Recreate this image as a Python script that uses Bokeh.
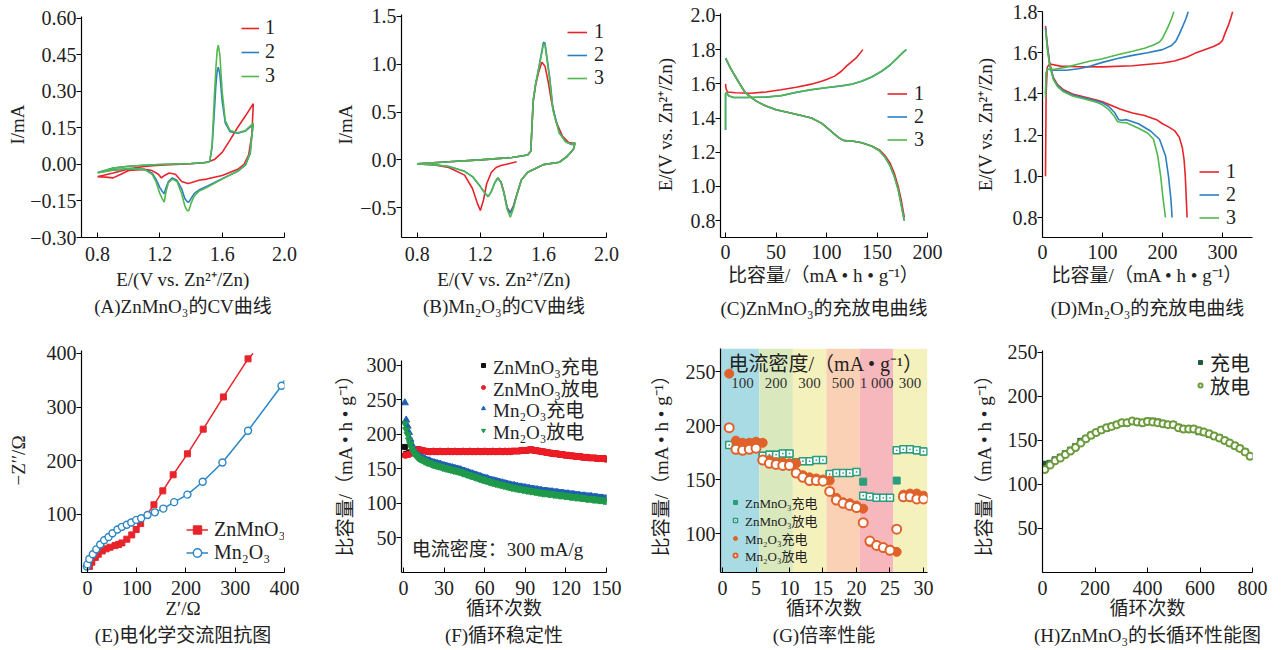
from bokeh.plotting import figure
from bokeh.models import (Range1d, FixedTicker, CustomJSTickFormatter, Legend, LegendItem,
                          Title, Label, BoxAnnotation)
from bokeh.layouts import row, column
from bokeh.embed import file_html
from bokeh.resources import INLINE

FONT = "Liberation Serif, Noto Sans CJK SC"
FS = "19px"

# ---------------- (A) ZnMnO3 CV ----------------
a_E1 = [0.80, 0.90, 1.00, 1.10, 1.20, 1.30, 1.40, 1.50, 1.55, 1.60, 1.65, 1.70, 1.75, 1.80, 1.79, 1.77, 1.74, 1.70,
        1.60, 1.50, 1.45, 1.40, 1.38, 1.34, 1.30, 1.26, 1.23, 1.21, 1.19, 1.15, 1.10, 1.00, 0.95, 0.90, 0.85, 0.80]
a_I1 = [-0.05, -0.035, -0.018, -0.008, -0.003, 0.0, 0.003, 0.008, 0.02, 0.05, 0.10, 0.153, 0.20, 0.25, 0.12, 0.04,
        0.0, -0.02, -0.045, -0.06, -0.065, -0.075, -0.078, -0.07, -0.04, -0.035, -0.045, -0.055, -0.04, -0.025,
        -0.02, -0.025, -0.04, -0.055, -0.052, -0.05]
a_E23 = [0.80, 0.90, 1.00, 1.10, 1.20, 1.30, 1.40, 1.48, 1.52, 1.535, 1.55, 1.56, 1.568, 1.575, 1.585, 1.60, 1.62,
         1.65, 1.70, 1.75, 1.80, 1.79, 1.78, 1.75, 1.70, 1.60, 1.50, 1.45, 1.42, 1.40, 1.385, 1.375, 1.36, 1.34,
         1.31, 1.28, 1.255, 1.24, 1.228, 1.215, 1.20, 1.175, 1.15, 1.10, 1.00, 0.90, 0.80]
a_I2 = [-0.033, -0.015, -0.007, -0.003, 0.0, 0.002, 0.004, 0.007, 0.012, 0.07, 0.22, 0.33, 0.385, 0.40, 0.37, 0.26,
        0.17, 0.135, 0.128, 0.138, 0.165, 0.115, 0.045, -0.002, -0.028, -0.058, -0.09, -0.105, -0.12, -0.14,
        -0.155, -0.152, -0.14, -0.10, -0.065, -0.055, -0.07, -0.095, -0.12, -0.11, -0.095, -0.06, -0.035, -0.02,
        -0.017, -0.023, -0.033]
a_I3 = [-0.035, -0.015, -0.007, -0.003, 0.0, 0.002, 0.004, 0.007, 0.012, 0.08, 0.28, 0.40, 0.47, 0.49, 0.45, 0.30,
        0.18, 0.14, 0.13, 0.14, 0.17, 0.12, 0.05, 0.0, -0.027, -0.06, -0.095, -0.11, -0.13, -0.16, -0.19, -0.19,
        -0.17, -0.12, -0.07, -0.06, -0.075, -0.11, -0.155, -0.14, -0.12, -0.07, -0.04, -0.02, -0.017, -0.024, -0.035]

# ---------------- (B) Mn2O3 CV ----------------
b_E1 = [1.43, 1.38, 1.33, 1.30, 1.27, 1.24, 1.22, 1.20, 1.18, 1.15, 1.10, 1.00, 0.90, 0.80, 1.00, 1.20, 1.40, 1.50,
        1.52, 1.535, 1.55, 1.57, 1.59, 1.61, 1.63, 1.65, 1.68, 1.72, 1.76, 1.80, 1.79, 1.75, 1.70, 1.60, 1.55, 1.50,
        1.46, 1.43, 1.41, 1.39, 1.37, 1.35, 1.33, 1.31]
b_I1 = [-0.02, -0.04, -0.06, -0.08, -0.13, -0.25, -0.42, -0.53, -0.45, -0.30, -0.16, -0.08, -0.05, -0.042, -0.02,
        0.0, 0.025, 0.05, 0.09, 0.60, 0.78, 0.92, 1.02, 0.98, 0.82, 0.62, 0.40, 0.25, 0.18, 0.17, 0.11, 0.035,
        -0.025, -0.05, -0.09, -0.13, -0.21, -0.37, -0.48, -0.55, -0.50, -0.34, -0.23, -0.19]
b_E23 = [0.80, 1.00, 1.20, 1.40, 1.50, 1.52, 1.535, 1.55, 1.57, 1.59, 1.60, 1.61, 1.62, 1.64, 1.66, 1.70, 1.74, 1.78,
         1.80, 1.79, 1.75, 1.70, 1.60, 1.55, 1.50, 1.46, 1.43, 1.41, 1.39, 1.37, 1.35, 1.33, 1.31, 1.29, 1.27,
         1.25, 1.23, 1.20, 1.15, 1.10, 1.00, 0.90, 0.80]
b_I2 = [-0.042, -0.02, 0.0, 0.025, 0.05, 0.09, 0.62, 0.79, 0.96, 1.14, 1.23, 1.22, 1.10, 0.86, 0.54, 0.29, 0.19,
        0.16, 0.18, 0.11, 0.035, -0.025, -0.05, -0.09, -0.13, -0.21, -0.37, -0.49, -0.56, -0.50, -0.35, -0.23,
        -0.19, -0.245, -0.33, -0.385, -0.35, -0.28, -0.175, -0.12, -0.07, -0.05, -0.042]
b_I3 = [-0.042, -0.02, 0.0, 0.025, 0.05, 0.09, 0.62, 0.79, 0.95, 1.12, 1.21, 1.20, 1.08, 0.84, 0.52, 0.28, 0.19,
        0.16, 0.18, 0.11, 0.035, -0.025, -0.05, -0.09, -0.13, -0.21, -0.38, -0.51, -0.60, -0.52, -0.35, -0.23,
        -0.19, -0.245, -0.33, -0.385, -0.35, -0.28, -0.175, -0.12, -0.07, -0.05, -0.042]

# ---------------- (C) ZnMnO3 charge/discharge ----------------
c_cap_ch1 = [0, 0.5, 2, 10, 25, 40, 55, 70, 85, 95, 100, 108, 115, 120, 125, 130, 136]
c_E_ch1 = [1.60, 1.57, 1.552, 1.548, 1.545, 1.552, 1.565, 1.58, 1.598, 1.615, 1.625, 1.645, 1.675, 1.705, 1.73,
           1.755, 1.80]
c_cap_ch23 = [0, 0, 1, 3, 8, 20, 40, 55, 70, 85, 100, 115, 125, 135, 145, 155, 163, 170, 176, 179]
c_E_ch2 = [1.33, 1.54, 1.55, 1.53, 1.52, 1.52, 1.522, 1.53, 1.55, 1.565, 1.577, 1.588, 1.597, 1.615, 1.64, 1.675,
           1.71, 1.75, 1.785, 1.80]
c_E_ch3 = [1.33, 1.54, 1.55, 1.53, 1.52, 1.52, 1.523, 1.531, 1.551, 1.566, 1.578, 1.589, 1.598, 1.616, 1.641, 1.676,
           1.71, 1.75, 1.785, 1.80]
c_cap_dis = [0, 5, 10, 15, 20, 30, 40, 50, 60, 75, 85, 95, 105, 112, 117, 125, 135, 145, 152, 158, 163, 167, 171,
             174, 177]
c_E_dis1 = [1.75, 1.69, 1.64, 1.59, 1.545, 1.50, 1.47, 1.448, 1.435, 1.415, 1.40, 1.37, 1.32, 1.285, 1.268, 1.265,
            1.255, 1.235, 1.215, 1.18, 1.135, 1.08, 1.00, 0.92, 0.82]
c_E_dis23 = [1.75, 1.69, 1.64, 1.59, 1.545, 1.50, 1.47, 1.448, 1.435, 1.415, 1.40, 1.37, 1.32, 1.285, 1.268, 1.265,
             1.255, 1.235, 1.21, 1.17, 1.12, 1.06, 0.98, 0.89, 0.80]

# ---------------- (D) Mn2O3 charge/discharge ----------------
d_cap_ch1 = [5, 6, 8, 12, 30, 60, 100, 150, 200, 220, 240, 255, 270, 285, 295, 300, 305, 310, 314, 317]
d_E_ch1 = [1.00, 1.40, 1.53, 1.545, 1.535, 1.532, 1.531, 1.537, 1.55, 1.56, 1.578, 1.598, 1.614, 1.63, 1.645,
           1.66, 1.70, 1.735, 1.77, 1.80]
d_cap_ch2 = [5, 6, 8, 20, 40, 60, 80, 100, 125, 150, 175, 200, 215, 222, 228, 234, 239, 243]
d_E_ch2 = [1.40, 1.50, 1.52, 1.515, 1.515, 1.522, 1.535, 1.553, 1.572, 1.587, 1.60, 1.615, 1.635, 1.655, 1.69,
           1.73, 1.765, 1.80]
d_cap_ch3 = [5, 6, 8, 20, 40, 60, 80, 100, 125, 150, 170, 185, 195, 200, 205, 210, 215, 219]
d_E_ch3 = [1.38, 1.50, 1.52, 1.52, 1.53, 1.545, 1.56, 1.571, 1.59, 1.607, 1.622, 1.637, 1.652, 1.67, 1.70, 1.73,
           1.765, 1.80]
d_cap_dis1 = [5, 8, 12, 18, 25, 35, 50, 70, 90, 100, 110, 130, 150, 170, 190, 200, 210, 220, 228, 233, 236, 238,
              239.5, 241]
d_E_dis1 = [1.73, 1.64, 1.55, 1.48, 1.445, 1.42, 1.40, 1.385, 1.37, 1.362, 1.35, 1.325, 1.307, 1.295, 1.275, 1.255,
            1.24, 1.222, 1.19, 1.14, 1.08, 1.00, 0.90, 0.80]
d_cap_dis2 = [5, 8, 12, 18, 25, 35, 50, 70, 90, 100, 110, 120, 127, 132, 140, 160, 180, 195, 205, 210, 214, 216]
d_E_dis2 = [1.72, 1.63, 1.54, 1.475, 1.44, 1.415, 1.395, 1.38, 1.365, 1.357, 1.34, 1.31, 1.275, 1.272, 1.275, 1.255,
            1.22, 1.18, 1.10, 1.00, 0.89, 0.80]
d_cap_dis3 = [5, 8, 12, 18, 25, 35, 50, 70, 90, 100, 110, 120, 125, 130, 140, 160, 175, 185, 192, 197, 201, 205]
d_E_dis3 = [1.71, 1.62, 1.54, 1.47, 1.435, 1.41, 1.39, 1.375, 1.36, 1.347, 1.325, 1.29, 1.265, 1.262, 1.26, 1.233,
            1.21, 1.18, 1.10, 1.00, 0.89, 0.80]

# ---------------- (E) EIS ----------------
e_zn_re = [4, 9, 16, 22, 30, 38, 46, 56, 63, 70, 80, 90, 99, 108, 135, 153, 174, 203, 235, 276, 326, 336]
e_zn_im = [3, 11, 20, 26, 32, 36, 39, 42, 44, 47, 54, 62, 72, 83, 118, 144, 174, 213, 259, 319, 390, 400]
e_mn_re = [-1, 0, 4, 11, 18, 26, 34, 43, 51, 61, 70, 80, 89, 99, 109, 122, 137, 154, 176, 203, 234, 274, 326, 394,
           400]
e_mn_im = [3, 7, 17, 26, 35, 44, 52, 58, 65, 72, 77, 81, 85, 90, 93, 99, 104, 111, 123, 137, 161, 197, 256, 340,
           350]

# ---------------- (F) cycling stability, 300 mA/g ----------------
f_cycles = list(range(1, 151))
f_zn_ch = [182, 172, 172, 173, 174, 175, 176, 177, 178, 178,
           178, 178, 177, 177, 176, 176, 176, 175, 175, 175,
           175, 176, 175, 175, 175, 175, 176, 175, 175, 175,
           175, 175, 176, 175, 175, 175, 175, 176, 175, 175,
           175, 175, 175, 176, 175, 175, 175, 175, 176, 175,
           175, 175, 175, 175, 176, 175, 175, 175, 175, 176,
           175, 175, 175, 175, 175, 176, 175, 175, 175, 175,
           176, 175, 175, 175, 176, 175, 175, 176, 175, 176,
           176, 176, 176, 176, 176, 176, 177, 177, 177, 177,
           177, 177, 178, 178, 178, 177, 177, 177, 176, 176,
           176, 175, 175, 175, 174, 174, 174, 173, 173, 173,
           172, 172, 172, 172, 171, 171, 171, 171, 170, 170,
           170, 170, 169, 169, 169, 169, 168, 168, 168, 168,
           168, 167, 167, 167, 167, 167, 166, 166, 166, 166,
           166, 166, 165, 165, 165, 165, 165, 165, 165, 164]
f_zn_dis = [170, 170, 171, 171, 172, 173, 174, 175, 176, 177,
            178, 178, 177, 177, 176, 176, 176, 175, 175, 175,
            175, 176, 175, 175, 175, 175, 176, 175, 175, 175,
            175, 175, 176, 175, 175, 175, 175, 176, 175, 175,
            175, 175, 175, 176, 175, 175, 175, 175, 176, 175,
            175, 175, 175, 175, 176, 175, 175, 175, 175, 176,
            175, 175, 175, 175, 175, 176, 175, 175, 175, 175,
            176, 175, 175, 175, 176, 175, 175, 176, 175, 176,
            176, 176, 176, 176, 176, 176, 177, 177, 177, 177,
            177, 177, 178, 178, 178, 177, 177, 177, 176, 176,
            176, 175, 175, 175, 174, 174, 174, 173, 173, 173,
            172, 172, 172, 172, 171, 171, 171, 171, 170, 170,
            170, 170, 169, 169, 169, 169, 168, 168, 168, 168,
            168, 167, 167, 167, 167, 167, 166, 166, 166, 166,
            166, 166, 165, 165, 165, 165, 165, 165, 165, 164]
f_mn_ch = [246, 221, 212, 203, 193, 186, 180, 176, 173, 171,
           169, 168, 167, 166, 165, 164, 163, 162, 162, 161,
           160, 159, 159, 158, 158, 157, 157, 156, 155, 155,
           154, 154, 153, 153, 152, 152, 151, 151, 150, 150,
           149, 149, 148, 147, 147, 146, 145, 145, 144, 143,
           143, 142, 141, 141, 140, 139, 139, 138, 137, 137,
           136, 136, 135, 134, 134, 133, 133, 132, 132, 131,
           131, 130, 130, 129, 129, 128, 128, 127, 127, 126,
           126, 126, 125, 125, 124, 124, 124, 123, 123, 123,
           122, 122, 122, 121, 121, 121, 120, 120, 120, 119,
           119, 119, 118, 118, 118, 118, 117, 117, 117, 117,
           116, 116, 116, 116, 115, 115, 115, 115, 114, 114,
           114, 114, 113, 113, 113, 113, 112, 112, 112, 112,
           111, 111, 111, 111, 110, 110, 110, 110, 110, 109,
           109, 109, 109, 108, 108, 108, 108, 107, 107, 107]
f_mn_dis = [216, 207, 200, 192, 186, 180, 176, 172, 170, 168,
            166, 165, 164, 163, 162, 161, 160, 159, 159, 158,
            157, 156, 156, 155, 155, 154, 154, 153, 152, 152,
            151, 151, 150, 150, 149, 149, 148, 148, 147, 147,
            146, 146, 145, 144, 144, 143, 142, 142, 141, 140,
            140, 139, 138, 138, 137, 136, 136, 135, 134, 134,
            133, 133, 132, 131, 131, 130, 130, 129, 129, 128,
            128, 127, 127, 126, 126, 125, 125, 124, 124, 123,
            123, 123, 122, 122, 121, 121, 121, 120, 120, 120,
            119, 119, 119, 118, 118, 118, 117, 117, 117, 116,
            116, 116, 115, 115, 115, 115, 114, 114, 114, 114,
            113, 113, 113, 113, 112, 112, 112, 112, 111, 111,
            111, 111, 110, 110, 110, 110, 109, 109, 109, 109,
            108, 108, 108, 108, 107, 107, 107, 107, 107, 106,
            106, 106, 106, 105, 105, 105, 105, 104, 104, 104]

# ---------------- (G) rate performance ----------------
g_cycles = list(range(1, 31))
g_zn_ch = [182, 183, 183, 184, 184, 172, 173, 173, 174, 174, 166, 167, 167, 168, 168,
           155, 156, 156, 156, 157, 148, 134, 133, 133, 133, 149, 178, 178, 177, 176]
g_zn_dis = [182, 182, 183, 183, 184, 172, 173, 173, 174, 174, 166, 167, 167, 168, 168,
            155, 156, 156, 156, 157, 135, 134, 133, 133, 133, 177, 178, 178, 177, 176]
g_mn_ch = [248, 186, 184, 184, 185, 184, 168, 166, 166, 165, 165, 154, 152, 151, 150,
           149, 133, 129, 128, 126, 123, 92, 89, 87, 85, 83, 136, 137, 137, 135]
g_mn_dis = [198, 178, 177, 178, 179, 168, 165, 164, 163, 163, 156, 152, 149, 149, 148.5,
            139, 131, 128, 126, 124, 110, 93, 89, 87, 84.5, 104, 134, 134, 132, 132]
g_band_edges = [0.5, 5.5, 10.5, 15.5, 20.5, 25.5, 30.6]
g_band_rates = ["100", "200", "300", "500", "1 000", "300"]
g_band_colors = ["#a9dbe5", "#d9e8bd", "#f5f1bd", "#fbd1b5", "#f6b8bc", "#f5f1bd"]

# ---------------- (H) long cycling ----------------
h_cycles = [9, 29, 48, 68, 87, 107, 126, 146, 165, 185, 204, 224, 244, 263, 283, 302, 322, 342, 361, 381, 400,
            420, 439, 459, 478, 498, 518, 537, 557, 576, 596, 615, 635, 654, 674, 694, 713, 733, 752, 772, 791]
h_dis = [117, 122, 127, 130, 134, 138, 142, 147, 152, 156, 159, 162, 164.5, 166, 168, 170, 170, 172, 171, 170,
         171.5, 171, 170, 169, 168, 168, 164.5, 163, 163, 163, 161, 159.5, 157.6, 155, 152.7, 150, 147, 144, 141,
         137, 132]
h_ch = [123, 124, 128, 131, 135, 139, 143, 149, 152, 156, 159, 162, 164, 166, 168, 170, 170, 172, 171, 170, 172,
        172, 171, 169, 168, 168, 165, 163, 163, 163, 160, 159, 157, 155, 153, 150, 147, 144, 141, 137, 132]

RED, BLUE, GREEN = "#e8242b", "#2b7fc1", "#52b84e"


def fmt(d):
    return CustomJSTickFormatter(args=dict(d=d), code="return tick.toFixed(d).replace('-', '\u2212');")


def make_fig(w, h, bl, bt, fw, fh, xr, yr):
    p = figure(width=w, height=h, x_range=Range1d(*xr), y_range=Range1d(*yr),
               min_border_left=bl, min_border_top=bt, min_border_right=w - bl - fw,
               min_border_bottom=h - bt - fh, output_backend="svg", toolbar_location=None)
    p.outline_line_color = None
    p.xgrid.visible = False
    p.ygrid.visible = False
    return p


def style(p, xticks, yticks, xd, yd, xlabel, ylabel, caption, ybounds, tso, lso, cso, yso=4):
    p.xaxis.ticker = FixedTicker(ticks=xticks)
    p.yaxis.ticker = FixedTicker(ticks=yticks)
    p.xaxis.formatter = fmt(xd)
    p.yaxis.formatter = fmt(yd)
    for ax in (p.xaxis[0], p.yaxis[0]):
        ax.axis_line_color = "black"
        ax.axis_line_width = 1.2
        ax.major_tick_line_color = "black"
        ax.minor_tick_line_color = None
        ax.major_label_text_font = FONT
        ax.major_label_text_font_size = "20px"
        ax.major_label_text_color = "#222222"
        ax.axis_label_text_font = FONT
        ax.axis_label_text_font_size = FS
        ax.axis_label_text_font_style = "normal"
        ax.axis_label_text_color = "#222222"
    p.yaxis.bounds = ybounds
    p.xaxis.axis_label_standoff = lso
    p.yaxis.axis_label_standoff = yso
    p.xaxis.major_tick_in = 5
    p.xaxis.major_tick_out = 0
    p.yaxis.major_tick_in = 0
    p.yaxis.major_tick_out = 5
    p.xaxis.major_label_standoff = tso
    p.yaxis.major_label_standoff = 0
    p.xaxis.axis_label = xlabel
    p.yaxis.axis_label = ylabel
    p.add_layout(Title(text=caption, align="center", text_font=FONT, text_font_size=FS,
                       text_font_style="normal", text_color="#222222", standoff=cso), "below")


def make_legend(items, loc, gh, sp, gw, fs, so):
    return Legend(items=[LegendItem(label=l, renderers=r) for l, r in items], location=loc,
                  background_fill_alpha=0, border_line_color=None, padding=0, margin=0, spacing=sp,
                  glyph_width=gw, glyph_height=gh, label_height=gh, label_standoff=so,
                  label_text_font=FONT, label_text_font_size=fs, label_text_color="#222222",
                  label_text_baseline="middle")


def legend(p, items, loc, gh, sp, gw=20, fs="20px", so=7):
    p.add_layout(make_legend(items, loc, gh, sp, gw, fs, so))


def legend_rows(p, items, vx, dists, gh, gw=10, fs="20px", so=5):
    # one single-entry legend per row; dists = row centre distance above the frame bottom
    for item, d in zip(items, dists):
        p.add_layout(make_legend([item], (vx, d - gh // 2 - 1), gh, 0, gw, fs, so))


H1, H2 = 325, 325
T1, F1 = 11, 227      # row 1 frame top / height
T2, F2 = 23, 224      # row 2 frame top / height
XLAB_CV = "E/(V vs. Zn\u00b2\u207a/Zn)"
CAP_LAB = "比容量/（mA • h • g\u207b\u00b9）"

# (A)
pA = make_fig(320, H1, 81, T1, 203, F1, (0.697, 2.0), (-0.30, 0.6286))
rA = [pA.line(a_E1, a_I1, color=RED, line_width=1.6),
      pA.line(a_E23, a_I2, color=BLUE, line_width=1.6),
      pA.line(a_E23, a_I3, color=GREEN, line_width=1.6)]
style(pA, [0.8, 1.2, 1.6, 2.0], [-0.30, -0.15, 0.0, 0.15, 0.30, 0.45, 0.60], 1, 2, XLAB_CV, "I/mA",
      "(A)ZnMnO\u2083的CV曲线", (-0.30, 0.61), 9, 5, 2, yso=-1)
legend(pA, [("1", [rA[0]]), ("2", [rA[1]]), ("3", [rA[2]])], (160, 150), 22, 1, gw=18, so=6)

# (B)
pB = make_fig(320, H1, 81, T1, 205, F1, (0.7, 2.0), (-0.8125, 1.552))
rB = [pB.line(b_E1, b_I1, color=RED, line_width=1.6),
      pB.line(b_E23, b_I2, color=BLUE, line_width=1.6),
      pB.line(b_E23, b_I3, color=GREEN, line_width=1.6)]
style(pB, [0.8, 1.2, 1.6, 2.0], [-0.5, 0.0, 0.5, 1.0, 1.5], 1, 1, XLAB_CV, "I/mA",
      "(B)Mn\u2082O\u2083的CV曲线", (-0.8125, 1.52), 9, 5, 2, yso=1)
legend(pB, [("1", [rB[0]]), ("2", [rB[1]]), ("3", [rB[2]])], (166, 148), 22, 0)

# (C)
pC = make_fig(320, H1, 80, T1, 207, F1, (-5, 200), (0.701, 2.023))
rC = [pC.line(c_cap_ch1, c_E_ch1, color=RED, line_width=1.6),
      pC.line(c_cap_dis, c_E_dis1, color=RED, line_width=1.6),
      pC.line(c_cap_ch23, c_E_ch2, color=BLUE, line_width=1.6),
      pC.line(c_cap_dis, c_E_dis23, color=BLUE, line_width=1.6),
      pC.line(c_cap_ch23, c_E_ch3, color=GREEN, line_width=1.6),
      pC.line(c_cap_dis, c_E_dis23, color=GREEN, line_width=1.6)]
style(pC, [0, 50, 100, 150, 200], [0.8, 1.0, 1.2, 1.4, 1.6, 1.8, 2.0], 0, 1, CAP_LAB, XLAB_CV,
      "(C)ZnMnO\u2083的充放电曲线", (0.701, 2.01), 7, 3, 14, yso=12)
legend(pC, [("1", [rC[0]]), ("2", [rC[2]]), ("3", [rC[4]])], (167, 86), 21, 0)

# (D)
pD = make_fig(321, H1, 82, T1, 210, F1, (0, 350), (0.703, 1.8))
rD = [pD.line(d_cap_ch1, d_E_ch1, color=RED, line_width=1.6),
      pD.line(d_cap_dis1, d_E_dis1, color=RED, line_width=1.6),
      pD.line(d_cap_ch2, d_E_ch2, color=BLUE, line_width=1.6),
      pD.line(d_cap_dis2, d_E_dis2, color=BLUE, line_width=1.6),
      pD.line(d_cap_ch3, d_E_ch3, color=GREEN, line_width=1.6),
      pD.line(d_cap_dis3, d_E_dis3, color=GREEN, line_width=1.6)]
style(pD, [0, 100, 200, 300], [0.8, 1.0, 1.2, 1.4, 1.6, 1.8], 0, 1, CAP_LAB, XLAB_CV,
      "(D)Mn\u2082O\u2083的充放电曲线", (0.703, 1.8), 7, 3, 14, yso=14)
legend(pD, [("1", [rD[0]]), ("2", [rD[2]]), ("3", [rD[4]])], (157, 8), 21, 0)

# (E)
pE = make_fig(320, H2, 81, T2, 203, F2, (-12, 400), (-8.1, 409.3))
eZl = pE.line(e_zn_re, e_zn_im, color=RED, line_width=1.5)
eZs = pE.scatter(e_zn_re[:-1], e_zn_im[:-1], marker="square", size=6, color=RED)
eMl = pE.line(e_mn_re, e_mn_im, color="#2b86c6", line_width=1.5)
eMs = pE.scatter(e_mn_re[:-1], e_mn_im[:-1], marker="circle", size=7, line_color="#2b86c6",
                 fill_color="white", line_width=1.4)
style(pE, [0, 100, 200, 300, 400], [100, 200, 300, 400], 0, 0, "Z\u2032/\u03a9", "\u2212Z\u2032\u2032/\u03a9",
      "(E)电化学交流阻抗图", (-8.1, 405), 8, 0, 2, yso=15)
legend(pE, [("ZnMnO\u2083", [eZl, eZs]), ("Mn\u2082O\u2083", [eMl, eMs])], (105, 8), 21, 0, gw=22, so=6)

# (F)
pF = make_fig(320, H2, 81, T2, 205, F2, (-1.5, 150), (0, 324.6))
f1 = pF.scatter(f_cycles, f_zn_ch, marker="square", size=5, color="#111111")
f2 = pF.scatter(f_cycles, f_zn_dis, marker="circle", size=6, color="#ee1c25")
f3 = pF.scatter(f_cycles, f_mn_ch, marker="triangle", size=7, color="#1f5fb5")
f4 = pF.scatter(f_cycles, f_mn_dis, marker="inverted_triangle", size=7, color="#1f9a4a")
style(pF, [0, 30, 60, 90, 120, 150], [50, 100, 150, 200, 250, 300], 0, 0, "循环次数", CAP_LAB,
      "(F)循环稳定性", (0, 307), 8, 0, 2, yso=8)
legend_rows(pF, [("ZnMnO\u2083充电", [f1]), ("ZnMnO\u2083放电", [f2]), ("Mn\u2082O\u2083充电", [f3]),
                 ("Mn\u2082O\u2083放电", [f4])], 77, [208, 186, 165, 143], 32, fs="19px")
pF.add_layout(Label(x=6, y=34, text="电流密度：300 mA/g", text_font=FONT, text_font_size=FS,
                    text_baseline="middle", text_color="#222222"))

# (G)
pG = make_fig(320, H2, 80, T2, 207, F2, (-0.3, 30.6), (63.9, 271.3))
for k in range(len(g_band_rates)):
    left = None if k == 0 else g_band_edges[k]
    pG.add_layout(BoxAnnotation(left=left, right=g_band_edges[k + 1], fill_color=g_band_colors[k],
                                fill_alpha=1, line_color=None, level="underlay"))
    pG.add_layout(Label(x=(g_band_edges[k] + min(g_band_edges[k + 1], 30.5)) / 2, y=239, text=g_band_rates[k],
                        text_font=FONT, text_font_size="15px", text_align="center",
                        text_baseline="middle", text_color="#333333"))
pG.add_layout(Label(x=15.5, y=257, text="电流密度/（mA • g\u207b\u00b9）", text_font=FONT,
                    text_font_size="20px", text_align="center", text_baseline="middle",
                    text_color="#222222"))
TEAL, ORANGE = "#2a9d7c", "#e0622a"
g1 = pG.scatter(g_cycles, g_zn_ch, marker="square", size=7, color=TEAL)
g2 = pG.scatter(g_cycles, g_zn_dis, marker="square_dot", size=7, line_color=TEAL, fill_color="white",
                line_width=1.5)
g3 = pG.scatter(g_cycles, g_mn_ch, marker="circle", size=9, color=ORANGE)
g4 = pG.scatter(g_cycles, g_mn_dis, marker="circle", size=9, line_color=ORANGE, fill_color="white",
                line_width=2)
style(pG, [0, 5, 10, 15, 20, 25, 30], [100, 150, 200, 250], 0, 0, "循环次数", CAP_LAB, "(G)倍率性能",
      (63.9, 271.3), 8, 0, 2, yso=11)
legend_rows(pG, [("ZnMnO\u2083充电", [g1]), ("ZnMnO\u2083放电", [g2]), ("Mn\u2082O\u2083充电", [g3]),
                 ("Mn\u2082O\u2083放电", [g4])], 10, [71, 53, 35, 18], 28, fs="13px")

# (H)
pH = make_fig(321, H2, 82, T2, 210, F2, (0, 800), (0, 254.5))
h1 = pH.scatter(h_cycles, h_ch, marker="square", size=6, color="#1e5c3a")
h2 = pH.scatter(h_cycles, h_dis, marker="circle", size=7, line_color="#6b9b3a", fill_color="white",
                line_width=2)
style(pH, [0, 200, 400, 600, 800], [50, 100, 150, 200, 250], 0, 0, "循环次数", CAP_LAB,
      "(H)ZnMnO\u2083的长循环性能图", (0, 252), 8, 0, 2, yso=10)
legend_rows(pH, [("充电", [h1]), ("放电", [h2])], 153, [211, 188], 30)

layout = column(row(pA, pB, pC, pD), row(pE, pF, pG, pH))
open("out.html", "w").write(file_html(layout, INLINE))
